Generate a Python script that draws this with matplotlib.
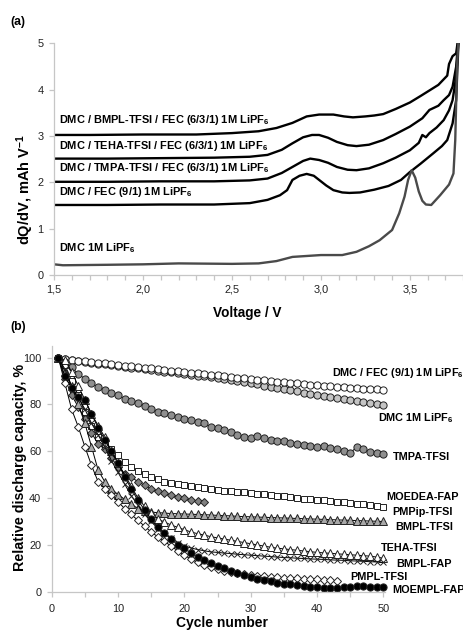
import numpy as np
import matplotlib
matplotlib.use("Agg")
import matplotlib.pyplot as plt
from matplotlib.ticker import MultipleLocator, FuncFormatter

plt.rcParams["font.family"] = ["Liberation Sans", "DejaVu Sans"]
plt.rcParams["mathtext.fontset"] = "custom"
plt.rcParams["mathtext.bf"] = "Liberation Sans:bold"
plt.rcParams["mathtext.rm"] = "Liberation Sans:bold"
plt.rcParams["mathtext.default"] = "bf"

# ---------------- panel (a): dQ/dV curves ----------------
v_bmpl = [1.5, 1.7, 2.0, 2.3, 2.5, 2.65, 2.75, 2.84, 2.92, 2.99, 3.07, 3.13, 3.18, 3.25, 3.30,
          3.35, 3.42, 3.50, 3.56, 3.61, 3.66, 3.69, 3.71, 3.72, 3.74, 3.76, 3.775]
q_bmpl = [3.02, 3.02, 3.03, 3.03, 3.06, 3.10, 3.17, 3.28, 3.42, 3.46, 3.46, 3.42, 3.40, 3.42, 3.44,
          3.47, 3.58, 3.72, 3.86, 3.98, 4.10, 4.22, 4.30, 4.55, 4.72, 4.78, 5.2]

v_teha = [1.5, 1.8, 2.1, 2.4, 2.6, 2.7, 2.78, 2.84, 2.90, 2.95, 2.99, 3.04, 3.09, 3.15, 3.20,
          3.27, 3.35, 3.42, 3.50, 3.57, 3.61, 3.66, 3.69, 3.72, 3.74, 3.76, 3.775]
q_teha = [2.51, 2.51, 2.52, 2.53, 2.55, 2.59, 2.70, 2.84, 2.97, 3.02, 3.02, 2.96, 2.87, 2.80, 2.78,
          2.81, 2.91, 3.04, 3.20, 3.38, 3.56, 3.65, 3.77, 3.88, 4.06, 4.49, 5.2]

v_tmpa = [1.5, 1.8, 2.1, 2.4, 2.6, 2.7, 2.78, 2.84, 2.90, 2.94, 2.99, 3.04, 3.09, 3.15, 3.20,
          3.27, 3.35, 3.42, 3.50, 3.55, 3.57, 3.59, 3.61, 3.65, 3.69, 3.72, 3.74, 3.76, 3.775]
q_tmpa = [2.01, 2.01, 2.02, 2.02, 2.04, 2.08, 2.20, 2.33, 2.46, 2.51, 2.48, 2.42, 2.33, 2.27, 2.26,
          2.30, 2.41, 2.53, 2.69, 2.85, 3.02, 2.97, 3.06, 3.18, 3.34, 3.55, 3.77, 4.27, 5.2]

v_fec = [1.5, 1.8, 2.1, 2.4, 2.6, 2.7, 2.77, 2.81, 2.84, 2.88, 2.92, 2.96, 2.99, 3.03, 3.07,
         3.12, 3.16, 3.22, 3.30, 3.38, 3.45, 3.50, 3.56, 3.63, 3.68, 3.71, 3.74, 3.76, 3.775]
q_fec = [1.51, 1.51, 1.52, 1.52, 1.55, 1.62, 1.72, 1.83, 2.05, 2.14, 2.18, 2.14, 2.05, 1.93, 1.83,
         1.78, 1.77, 1.78, 1.84, 1.92, 2.05, 2.22, 2.40, 2.62, 2.78, 2.91, 3.27, 3.77, 5.2]

v_dmc = [1.5, 1.55, 1.8, 2.0, 2.2, 2.5, 2.65, 2.75, 2.84, 3.0, 3.12, 3.2, 3.27, 3.33, 3.4,
         3.44, 3.47, 3.49, 3.51, 3.53, 3.55, 3.57, 3.59, 3.62, 3.67, 3.72, 3.745, 3.755, 3.765, 3.775]
q_dmc = [0.23, 0.21, 0.22, 0.23, 0.25, 0.24, 0.25, 0.30, 0.39, 0.43, 0.43, 0.50, 0.62, 0.75, 0.97,
         1.33, 1.69, 2.05, 2.26, 2.10, 1.80, 1.60, 1.52, 1.51, 1.72, 1.95, 2.19, 2.91, 4.49, 5.2]

labels_a = ["DMC / BMPL-TFSI / FEC (6/3/1) 1M LiPF$_6$",
            "DMC / TEHA-TFSI / FEC (6/3/1) 1M LiPF$_6$",
            "DMC / TMPA-TFSI / FEC (6/3/1) 1M LiPF$_6$",
            "DMC / FEC (9/1) 1M LiPF$_6$",
            "DMC 1M LiPF$_6$"]
label_a_y = [3.34, 2.79, 2.31, 1.78, 0.575]

# ---------------- panel (b): capacity retention ----------------
fec_circ = [100, 99.5, 99.2, 98.8, 98.5, 98.2, 97.9, 97.6, 97.2, 96.9, 96.6, 96.3, 96.0, 95.7, 95.4,
            95.1, 94.8, 94.5, 94.2, 93.9, 93.6, 93.3, 93.0, 92.7, 92.4, 92.1, 91.8, 91.5, 91.2, 90.9,
            90.6, 90.4, 90.1, 89.8, 89.5, 89.3, 89.0, 88.7, 88.5, 88.2, 88.0, 87.8, 87.6, 87.4, 87.2,
            87.0, 86.8, 86.7, 86.6, 86.4]
dmc_circ = [100, 99.3, 98.9, 98.5, 98.1, 97.8, 97.4, 97.1, 96.7, 96.4, 96.1, 95.8, 95.4, 95.1, 94.8,
            94.4, 94.1, 93.8, 93.4, 93.0, 92.7, 92.3, 92.0, 91.6, 91.2, 90.8, 90.4, 90.0, 89.5, 89.0,
            88.6, 88.1, 87.6, 87.1, 86.6, 86.1, 85.6, 85.1, 84.6, 84.1, 83.6, 83.2, 82.7, 82.3, 81.9,
            81.5, 81.1, 80.7, 80.3, 79.8]
tmpa_circ = [100, 98, 96, 93, 91, 89, 87.5, 86, 85, 84, 82.5, 81.5, 80.5, 79.5, 78, 77, 76.2, 75.5,
             74.8, 74, 73.4, 72.6, 71.9, 70.5, 69.8, 69.1, 68.4, 67, 66, 65.5, 66.5, 65.5, 64.8, 64.5,
             64.2, 63.6, 63, 62.7, 62.3, 62, 62.3, 61.5, 60.8, 60.2, 59.4, 61.7, 60.8, 59.8, 59.4, 58.8]
moedea_sq = [100, 97, 90, 84, 77, 71, 66, 63, 61, 58.5, 55.5, 53.5, 51.7, 50.5, 49, 48, 47, 46.5,
             46, 45.5, 45, 44.6, 44.2, 43.8, 43.5, 43.2, 42.9, 42.7, 42.5, 42.2, 41.9, 41.6, 41.3,
             41.0, 40.7, 40.4, 40.1, 39.8, 39.6, 39.4, 39.1, 38.8, 38.5, 38.2, 37.9, 37.6, 37.3,
             37.0, 36.7, 36.4]
pmpip_dia = [100, 91, 84, 79, 74, 68, 63, 61, 57, 53.5, 50.5, 49, 47, 45.5, 44, 43, 42, 41.3, 40.6,
             40, 39.3, 38.8, 38.5]
bmpl_tri = [100, 94, 88, 80, 72, 62, 52, 47, 44, 41.5, 39.5, 37.5, 35.5, 34.5, 34, 33.8, 33.6, 33.4,
            33.3, 33.2, 33.1, 33.0, 32.9, 32.8, 32.6, 32.5, 32.4, 32.2, 32.1, 32.0, 31.9, 31.8, 31.7,
            31.6, 31.5, 31.4, 31.3, 31.2, 31.1, 31.0, 30.9, 30.8, 30.7, 30.6, 30.5, 30.4, 30.3, 30.2,
            30.1, 30.0]
teha_tri = [100, 99, 94, 88, 82, 76, 71, 66, 60, 55, 50, 45, 40, 36.5, 33.5, 31, 29.8, 28.5, 27.5,
            26.5, 25.5, 24.8, 24.2, 23.5, 23, 22.5, 22, 21.5, 21, 20.5, 20, 19.5, 19, 18.6, 18.3, 18,
            17.7, 17.4, 17.1, 16.8, 16.6, 16.4, 16.2, 16, 15.8, 15.6, 15.4, 15.2, 14.8, 14.3]
bmplfap_x = [100, 95, 88, 83, 78, 72, 67, 62, 56, 51, 46, 41, 37, 33, 30, 27, 25, 23, 21, 19.5, 18.7,
             18, 17.5, 17, 16.8, 16.5, 16.3, 16, 15.8, 15.6, 15.4, 15.2, 15, 14.8, 14.6, 14.5, 14.3,
             14.2, 14, 13.9, 13.8, 13.6, 13.5, 13.4, 13.2, 13.1, 13, 12.8, 12.7, 12.5]
pmpl_dia = [100, 89, 78, 70.5, 62, 54, 47, 44, 41.5, 38.5, 35.5, 33, 30.5, 28, 25.5, 23.5, 21.5,
            19.5, 17.5, 15.5, 14, 12.5, 11.5, 10.5, 9.7, 9, 8.3, 7.8, 7.4, 7.1, 6.8, 6.5, 6.3, 6.1,
            6, 5.9, 5.8, 5.6, 5.5, 5.3, 5.1, 4.9, 4.7]
moempl_circ = [100, 92, 87, 83, 82, 76, 70, 65, 60, 55, 49, 44, 39, 35, 31, 27.5, 25, 22.5, 20, 18.5,
               16.5, 15, 13.5, 12.2, 11, 10, 9, 8, 7.2, 6.4, 5.6, 5, 4.4, 3.9, 3.5, 3.1, 2.8, 2.4,
               2.0, 1.8, 1.6, 1.4, 1.6, 1.8, 2.0, 2.3, 2.6, 2.2, 1.9, 1.8]

labels_b = ["DMC / FEC (9/1) 1M LiPF$_6$", "DMC 1M LiPF$_6$", "TMPA-TFSI", "MOEDEA-FAP",
            "PMPip-TFSI", "BMPL-TFSI", "TEHA-TFSI", "BMPL-FAP", "PMPL-TFSI", "MOEMPL-FAP"]
label_b_x = [42.3, 49.2, 51.4, 50.5, 51.3, 51.8, 49.7, 51.9, 45.0, 51.3]
label_b_y = [93.3, 74.1, 57.4, 40.3, 33.9, 27.8, 18.5, 11.8, 6.4, 0.7]

axis_col = "#c6c6c6"
fig = plt.figure(figsize=(4.64, 6.3), dpi=100)

# ======================================================
# (a)
# ======================================================
ax1 = fig.add_axes([0.1164, 0.5635, 0.882, 0.368])
curves = [(v_bmpl, q_bmpl, "black"), (v_teha, q_teha, "black"), (v_tmpa, q_tmpa, "black"),
          (v_fec, q_fec, "black"), (v_dmc, q_dmc, "#4a4a4a")]
for vx, qy, col in curves:
    ax1.plot(vx, qy, color=col, lw=1.7, solid_joinstyle="round")
for lab, ly in zip(labels_a, label_a_y):
    ax1.text(1.53, ly, lab, fontsize=7.9, fontweight="bold", va="center", ha="left")

ax1.set_xlim(1.5, 3.8)
ax1.set_ylim(0, 5)
ax1.xaxis.set_major_locator(MultipleLocator(0.5))
ax1.xaxis.set_minor_locator(MultipleLocator(0.1))
ax1.xaxis.set_major_formatter(FuncFormatter(lambda v, p: f"{v:.1f}".replace(".", ",")))
ax1.yaxis.set_major_locator(MultipleLocator(1))

# ======================================================
# (b)
# ======================================================
ax2 = fig.add_axes([0.1114, 0.0608, 0.719, 0.39])
ms = 5.2
series = [
    (dmc_circ, "o", "#c4c4c4", ms),
    (fec_circ, "o", "white", ms),
    (tmpa_circ, "o", "#8f8f8f", ms),
    (moedea_sq, "s", "white", 4.9),
    (pmpip_dia, "D", "#808080", 3.9),
    (bmpl_tri, "^", "#a8a8a8", 5.6),
    (teha_tri, "^", "white", 5.6),
    (bmplfap_x, "x", "black", 3.9),
    (pmpl_dia, "D", "white", 3.9),
    (moempl_circ, "o", "black", ms),
]
for vals, mk, fc, size in series:
    cyc = np.arange(1, len(vals) + 1)
    ax2.plot(cyc, vals, color="black", lw=0.7, marker=mk, markersize=size,
             markerfacecolor=fc, markeredgecolor="#222222", markeredgewidth=0.7, clip_on=False)

for lab, lx, ly in zip(labels_b, label_b_x, label_b_y):
    ax2.text(lx, ly, lab, fontsize=7.8, fontweight="bold", va="center", ha="left", clip_on=False)

ax2.set_xlim(0, 50.3)
ax2.set_ylim(0, 105)
ax2.xaxis.set_major_locator(MultipleLocator(10))
ax2.xaxis.set_minor_locator(MultipleLocator(5))
ax2.yaxis.set_major_locator(MultipleLocator(20))

for ax in (ax1, ax2):
    for s in ("top", "right"):
        ax.spines[s].set_visible(False)
    for s in ("left", "bottom"):
        ax.spines[s].set_color(axis_col)
        ax.spines[s].set_linewidth(0.9)
    ax.tick_params(which="both", direction="out", color=axis_col, width=0.9, length=3.5,
                   labelsize=7.9, labelcolor="#222222")
    ax.tick_params(axis="y", pad=4)
    ax.patch.set_alpha(0)
ax1.tick_params(axis="x", pad=3)
ax2.tick_params(axis="x", pad=5.5)

fig.text(0.022, 0.965, "(a)", fontsize=8.8, fontweight="bold", va="center")
fig.text(0.022, 0.481, "(b)", fontsize=8.8, fontweight="bold", va="center")
fig.text(0.532, 1 - 313 / 630, "Voltage / V", fontsize=9.8, fontweight="bold", ha="center", va="center")
fig.text(0.054, 1 - 190 / 630, "dQ/dV, mAh V$^{-1}$", fontsize=10.5, fontweight="bold",
         rotation=90, ha="center", va="center")
fig.text(0.478, 1 - 623 / 630, "Cycle number", fontsize=10, fontweight="bold", ha="center", va="center")
fig.text(0.043, 1 - 467.5 / 630, "Relative discharge capacity, %", fontsize=10.3, fontweight="bold",
         rotation=90, ha="center", va="center")

fig.savefig("out.png", dpi=100)
